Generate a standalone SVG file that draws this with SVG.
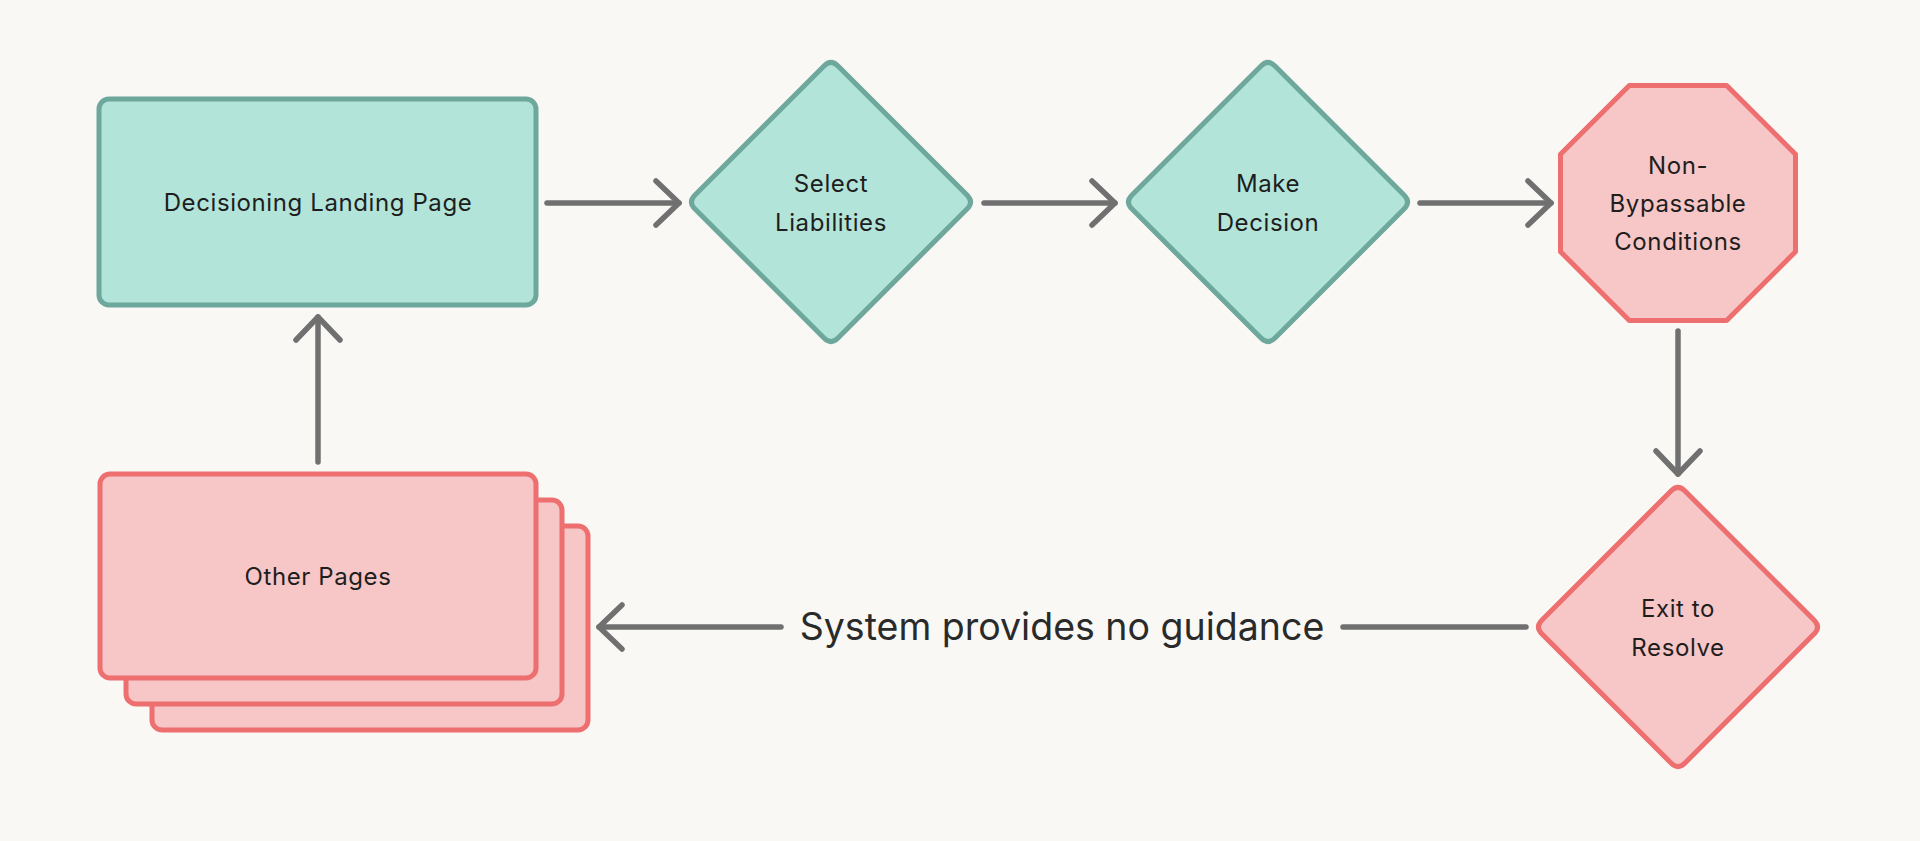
<svg xmlns="http://www.w3.org/2000/svg" xmlns:xlink="http://www.w3.org/1999/xlink" width="1920" height="841" viewBox="0 0 1920 841">
  <style>
    .teal { fill: #b2e4d9; stroke: #6ea89c; stroke-width: 5; stroke-linejoin: round; }
    .pink { fill: #f7c6c6; stroke: #ee6f70; stroke-width: 5; stroke-linejoin: round; }
    .lbl { font-family: Inter, "Liberation Sans", sans-serif; font-size: 24px; letter-spacing: 0.6px; fill: #1e1e1e; text-anchor: middle; }
    .big { font-family: Inter, "Liberation Sans", sans-serif; font-size: 37.5px; fill: #2a2a2a; text-anchor: middle; }
    .conn { fill: none; stroke: #707070; stroke-width: 5.5; stroke-linecap: round; marker-end: url(#arr); }
  </style>
  <defs>
    <marker id="arr" markerUnits="userSpaceOnUse" viewBox="-32 -30 40 60" markerWidth="40" markerHeight="60" refX="0" refY="0" orient="auto">
      <path d="M -23,-22 L 0,0 L -23,22" fill="none" stroke="#707070" stroke-width="5.5" stroke-linecap="round" stroke-linejoin="round"/>
    </marker>
    <path id="dia" d="M 7,-136 L 136,-7 Q 143,0 136,7 L 7,136 Q 0,143 -7,136 L -136,7 Q -143,0 -136,-7 L -7,-136 Q 0,-143 7,-136 Z"/>
  </defs>

  <rect width="1920" height="841" fill="#f9f8f5"/>

  <g id="connectors">
    <path class="conn" d="M 547,203 L 679,203"/>
    <path class="conn" d="M 984,203 L 1115,203"/>
    <path class="conn" d="M 1420,203 L 1551,203"/>
    <path class="conn" d="M 1678,331 L 1678,474"/>
    <path class="conn" d="M 1526,627 L 1343,627 M 781,627 L 599,627"/>
    <path class="conn" d="M 318,462 L 318,317"/>
    <text class="big" x="1062" y="640">System provides no guidance</text>
  </g>

  <g id="landing">
    <rect class="teal" x="99" y="99" width="437" height="206" rx="10"/>
    <text class="lbl" x="318" y="211">Decisioning Landing Page</text>
  </g>

  <g id="select-liabilities">
    <use href="#dia" xlink:href="#dia" x="831" y="202" class="teal"/>
    <text class="lbl" x="831" y="192">Select</text>
    <text class="lbl" x="831" y="231">Liabilities</text>
  </g>

  <g id="make-decision">
    <use href="#dia" xlink:href="#dia" x="1268" y="202" class="teal"/>
    <text class="lbl" x="1268" y="192">Make</text>
    <text class="lbl" x="1268" y="231">Decision</text>
  </g>

  <g id="non-bypassable">
    <polygon class="pink" points="1629.3,85.5 1726.7,85.5 1795.5,154.3 1795.5,251.7 1726.7,320.5 1629.3,320.5 1560.5,251.7 1560.5,154.3"/>
    <text class="lbl" x="1678" y="174">Non-</text>
    <text class="lbl" x="1678" y="212">Bypassable</text>
    <text class="lbl" x="1678" y="250">Conditions</text>
  </g>

  <g id="exit-to-resolve">
    <use href="#dia" xlink:href="#dia" x="1678" y="627" class="pink"/>
    <text class="lbl" x="1678" y="617">Exit to</text>
    <text class="lbl" x="1678" y="656">Resolve</text>
  </g>

  <g id="other-pages">
    <rect class="pink" x="152" y="526" width="436" height="204" rx="10"/>
    <rect class="pink" x="126" y="500" width="436" height="204" rx="10"/>
    <rect class="pink" x="100" y="474" width="436" height="204" rx="10"/>
    <text class="lbl" x="318" y="585">Other Pages</text>
  </g>
</svg>
